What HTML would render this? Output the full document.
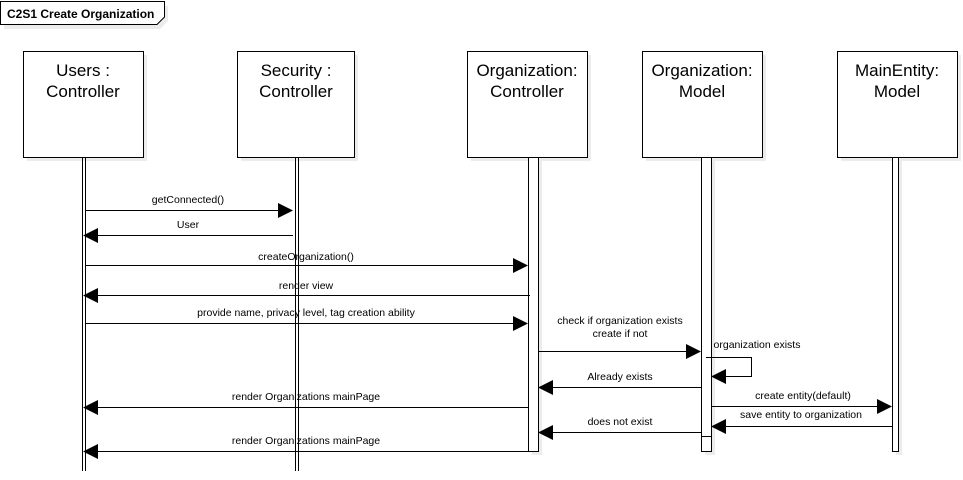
<!DOCTYPE html>
<html><head><style>body{margin:0;background:#fff}svg{display:block}</style></head><body>
<svg width="963" height="480" xmlns="http://www.w3.org/2000/svg" font-family="Liberation Sans, sans-serif">
<rect width="963" height="480" fill="#fff"/>
<g fill="#ececec">
<path d="M4 6 H168 V21 L160 29 H4Z"/>
<rect x="27" y="55" width="120" height="106"/><rect x="241" y="55" width="117" height="106"/>
<rect x="471" y="55" width="120" height="106"/><rect x="646" y="55" width="120" height="106"/>
<rect x="841" y="55" width="120" height="106"/>
<rect x="532" y="161" width="10" height="294"/><rect x="705" y="161" width="10" height="294"/><rect x="896" y="161" width="6" height="294"/>
</g>
<path d="M0.5 1.5 H164.5 V17 L157 24.5 H0.5Z" fill="#fff" stroke="#000"/>
<text x="7" y="18" font-size="12" font-weight="bold">C2S1 Create Organization</text>
<g fill="#fff" stroke="#000">
<rect x="23.5" y="51.5" width="120" height="106"/><rect x="237.5" y="51.5" width="117" height="106"/>
<rect x="467.5" y="51.5" width="120" height="106"/><rect x="642.5" y="51.5" width="120" height="106"/>
<rect x="837.5" y="51.5" width="120" height="106"/>
<rect x="528.5" y="157.5" width="10" height="294"/><rect x="701.5" y="157.5" width="10" height="294"/><rect x="892.5" y="157.5" width="6" height="294"/>
</g>
<g stroke="#000"><line x1="82.5" y1="157" x2="82.5" y2="471"/><line x1="85.5" y1="157" x2="85.5" y2="471"/>
<line x1="295.5" y1="157" x2="295.5" y2="471"/><line x1="298.5" y1="157" x2="298.5" y2="471"/>
<line x1="701" y1="436.5" x2="711" y2="436.5"/>
</g>
<g font-size="17" text-anchor="middle">
<text x="83" y="76">Users :</text><text x="83" y="97">Controller</text>
<text x="296" y="76">Security :</text><text x="296" y="97">Controller</text>
<text x="527" y="76">Organization:</text><text x="527" y="97">Controller</text>
<text x="702" y="76">Organization:</text><text x="702" y="97">Model</text>
<text x="897" y="76">MainEntity:</text><text x="897" y="97">Model</text>
</g>
<g stroke="#000" fill="none">
<line x1="85" y1="210.5" x2="280" y2="210.5"/>
<line x1="98" y1="235.5" x2="293" y2="235.5"/>
<line x1="85" y1="265.5" x2="515" y2="265.5"/>
<line x1="98" y1="295.5" x2="530" y2="295.5"/>
<line x1="85" y1="323.5" x2="515" y2="323.5"/>
<line x1="538" y1="351.5" x2="688" y2="351.5"/>
<path d="M706 357.5 H751.5 V376.5 H724"/>
<line x1="551" y1="387.5" x2="701" y2="387.5"/>
<line x1="98" y1="407.5" x2="528" y2="407.5"/>
<line x1="711" y1="406.5" x2="879" y2="406.5"/>
<line x1="724" y1="426.5" x2="892" y2="426.5"/>
<line x1="551" y1="432.5" x2="701" y2="432.5"/>
<line x1="98" y1="451.5" x2="528" y2="451.5"/>
</g>
<g fill="#000">
<path d="M278 203 L293 210.5 L278 218Z"/>
<path d="M98 228 L83 235.5 L98 243Z"/>
<path d="M513 258 L528 265.5 L513 273Z"/>
<path d="M98 288 L83 295.5 L98 303Z"/>
<path d="M513 316 L528 323.5 L513 331Z"/>
<path d="M686 344 L701 351.5 L686 359Z"/>
<path d="M726 369 L711 376.5 L726 384Z"/>
<path d="M553 380 L538 387.5 L553 395Z"/>
<path d="M98 400 L83 407.5 L98 415Z"/>
<path d="M877 399 L892 406.5 L877 414Z"/>
<path d="M726 419 L711 426.5 L726 434Z"/>
<path d="M553 425 L538 432.5 L553 440Z"/>
<path d="M98 444 L83 451.5 L98 459Z"/>
</g>
<g font-size="10.5" text-anchor="middle">
<text x="188" y="203">getConnected()</text>
<text x="188" y="228">User</text>
<text x="306" y="260">createOrganization()</text>
<text x="306" y="289">render view</text>
<text x="306" y="316">provide name, privacy level, tag creation ability</text>
<text x="620" y="324">check if organization exists</text>
<text x="620" y="337">create if not</text>
<text x="757" y="348">organization exists</text>
<text x="620" y="380">Already exists</text>
<text x="306" y="400">render Organizations mainPage</text>
<text x="803" y="399">create entity(default)</text>
<text x="801" y="418">save entity to organization</text>
<text x="620" y="425">does not exist</text>
<text x="306" y="444">render Organizations mainPage</text>
</g>
</svg>
</body></html>
